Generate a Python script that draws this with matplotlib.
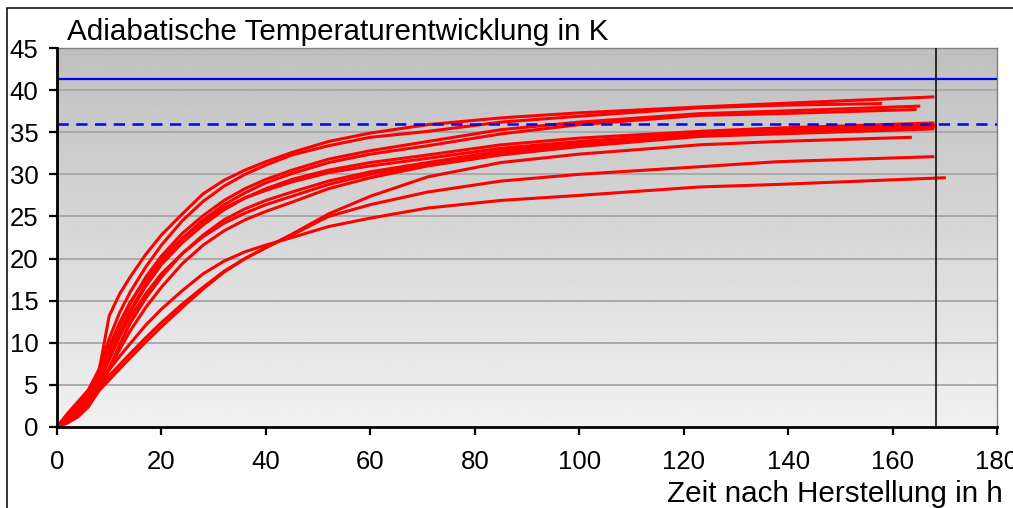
import numpy as np
import matplotlib
matplotlib.use("Agg")
import matplotlib.pyplot as plt
from matplotlib.patches import Rectangle

plt.rcParams['font.family'] = ['Liberation Sans', 'DejaVu Sans']

# ---------------- data ----------------
title = "Adiabatische Temperaturentwicklung in K"
xlabel = "Zeit nach Herstellung in h"
x_ticks = [0, 20, 40, 60, 80, 100, 120, 140, 160, 180]
y_ticks = [0, 5, 10, 15, 20, 25, 30, 35, 40, 45]

hours = [0, 2, 4, 6, 8, 10, 12, 14, 17, 20, 24, 28, 32, 36, 40, 45, 52, 60, 71, 85, 100, 123, 138]

c1 = [0, 1.2, 2.5, 3.9, 6.5, 13.2, 15.8, 17.8, 20.5, 22.8, 25.3, 27.7, 29.3, 30.5, 31.5, 32.6, 33.9, 34.9, 35.9, 36.7, 37.3, 38.0, 38.4]
c2 = [0, 1.6, 3.0, 4.4, 6.8, 10.5, 13.6, 16.0, 19.0, 21.6, 24.5, 26.8, 28.6, 30.0, 31.1, 32.3, 33.4, 34.4, 35.1, 36.2, 36.9, 37.9, 38.2]
c3 = [0, 1.0, 2.2, 3.6, 6.0, 9.0, 12.0, 14.6, 17.8, 20.3, 23.0, 25.1, 26.9, 28.3, 29.4, 30.5, 31.8, 32.8, 33.9, 35.3, 36.2, 37.2, 37.5]
c4 = [0, 0.8, 1.8, 3.2, 5.0, 8.0, 11.2, 13.8, 17.0, 19.6, 22.4, 24.6, 26.4, 27.8, 29.0, 30.1, 31.4, 32.4, 33.4, 34.8, 35.9, 37.0, 37.2]
c5 = [0, 0.7, 1.6, 3.0, 5.6, 8.4, 11.1, 13.6, 16.7, 19.3, 21.9, 24.0, 25.8, 27.2, 28.3, 29.4, 30.5, 31.4, 32.3, 33.5, 34.3, 35.1, 35.5]
c6 = [0, 1.4, 2.8, 4.1, 6.6, 9.6, 12.4, 14.8, 17.6, 20.0, 22.4, 24.4, 26.0, 27.2, 28.1, 29.1, 30.2, 31.0, 31.9, 33.1, 33.9, 34.9, 35.3]
c7 = [0, 0.5, 1.2, 2.4, 4.3, 7.0, 9.8, 12.3, 15.3, 17.8, 20.6, 22.8, 24.6, 25.9, 26.9, 27.9, 29.2, 30.3, 31.4, 32.8, 33.7, 34.7, 35.1]
c8 = [0, 1.0, 2.2, 3.4, 5.4, 8.0, 10.7, 13.0, 15.8, 18.2, 20.6, 22.6, 24.2, 25.4, 26.4, 27.4, 28.8, 30.0, 31.2, 32.6, 33.5, 34.6, 35.0]
c9 = [0, 0.6, 1.5, 2.8, 4.5, 6.8, 9.2, 11.4, 14.2, 16.6, 19.4, 21.6, 23.3, 24.6, 25.6, 26.7, 28.3, 29.6, 31.0, 32.3, 33.3, 34.5, 34.8]
c10 = [0, 0.5, 1.3, 2.6, 4.3, 5.6, 6.9, 8.2, 10.1, 11.9, 14.2, 16.4, 18.4, 20.0, 21.3, 22.9, 25.3, 27.4, 29.7, 31.4, 32.4, 33.5, 33.9]
c11 = [0, 0.7, 1.7, 3.0, 4.7, 6.1, 7.4, 8.7, 10.6, 12.4, 14.6, 16.6, 18.5, 20.0, 21.3, 22.8, 25.0, 26.4, 27.9, 29.2, 30.0, 30.9, 31.5]
c12 = [0, 1.0, 2.2, 3.5, 5.2, 6.8, 8.4, 9.9, 12.1, 14.0, 16.2, 18.2, 19.7, 20.8, 21.6, 22.5, 23.8, 24.8, 26.0, 26.9, 27.5, 28.5, 28.8]

series = [c1, c2, c3, c4, c5, c6, c7, c8, c9, c10, c11, c12]
end_hours = [168.0, 158.0, 165.3, 164.6, 168.0, 168.0, 168.5, 168.0, 168.0, 163.7, 168.0, 170.2]
end_values = [39.2, 38.4, 38.1, 37.7, 36.1, 35.9, 35.8, 35.6, 35.4, 34.4, 32.1, 29.6]

limit_solid = 41.3
limit_dashed = 36.0
marker_hour = 168.3

# ---------------- figure ----------------
W, H = 1013, 508
fig = plt.figure(figsize=(W / 100, H / 100), dpi=100)
fig.patch.set_facecolor('white')

# figure frame (left and top visible)
fig.patches.append(Rectangle((7 / W, -0.1), 1.2, (H - 8) / H + 0.1, transform=fig.transFigure,
                             fill=False, edgecolor='black', linewidth=1.1, zorder=0))

ax = fig.add_axes([57 / W, 1 - 427 / H, (997 - 57) / W, (427 - 48) / H])
ax.set_xlim(0, 180)
ax.set_ylim(0, 45)

# gradient background: darker at top, lighter at bottom
grad = np.linspace(0.75, 0.945, 256).reshape(-1, 1)
ax.imshow(grad, extent=[0, 180, 0, 45], origin='upper', cmap='gray', vmin=0, vmax=1,
          aspect='auto', zorder=0, interpolation='bilinear')
ax.set_xlim(0, 180)
ax.set_ylim(0, 45)

# gridlines
for yv in y_ticks[1:]:
    ax.axhline(yv, color='#a6a6a6', lw=1.3, zorder=1)

for ys, xe, ye in zip(series, end_hours, end_values):
    ax.plot(hours + [xe], ys + [ye], color='#ff0000', lw=2.2, zorder=3,
            solid_joinstyle='round', solid_capstyle='butt')

ax.axhline(limit_solid, color='#0000ff', lw=1.6, zorder=4)
ax.axhline(limit_dashed, color='#0000ff', lw=1.8, dashes=(4.5, 3.0), zorder=4)
ax.axvline(marker_hour, color='black', lw=1.1, zorder=4)

ax.set_xticks(x_ticks)
ax.set_yticks(y_ticks)
ax.tick_params(axis='both', direction='out', length=5.5, width=1.6, labelsize=18.5, color='black')
ax.tick_params(axis='x', pad=11)
ax.tick_params(axis='y', pad=8)

for s in ['left', 'bottom']:
    ax.spines[s].set_linewidth(2.0)
    ax.spines[s].set_color('black')
    ax.spines[s].set_zorder(5)
for s in ['top', 'right']:
    ax.spines[s].set_linewidth(1.0)
    ax.spines[s].set_color('#808080')

fig.text(67 / W, 1 - 40 / H, title, fontsize=21.3, ha='left', va='baseline')
fig.text(1003 / W, 1 - 502 / H, xlabel, fontsize=21.3, ha='right', va='baseline')

fig.savefig('out.png', dpi=100)
